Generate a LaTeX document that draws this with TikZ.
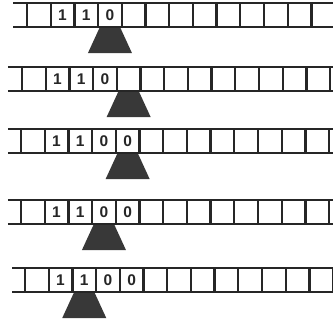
\documentclass[tikz,border=0pt]{standalone}
\usepackage{fontspec}
\setmainfont{Liberation Sans}

\tikzset{
  tapeline/.style={line width=1.7pt, draw=black!85},
  cellbar/.style={line width=2.3pt, draw=black!85},
  symbol/.style={font=\bfseries\fontsize{15.5}{15.5}\selectfont, text=black!85, inner sep=0pt},
  head/.style={fill=black!78},
}

% name, top y, left end, first bar, symbols, head cell
\newcommand{\tmtape}[6]{%
  \draw[tapeline] (#3,#2) -- (333,#2) (#3,#2+24) -- (333,#2+24);
  \foreach \k in {0,...,13} {
    \draw[cellbar] (#4+\k*23.7,#2) -- (#4+\k*23.7,#2+24);
  }
  \foreach \s [count=\i] in {#5} {
    \node[symbol] (#1c\i) at (#4+\i*23.7+11.85,#2+12.5) {\s};
  }
  \coordinate (#1h) at (#4+#6*23.7+11.85,#2+25);
  \fill[head] (#1h) ++(-10.5,0) -- ++(21,0) -- ++(11.5,25) -- ++(-44,0) -- cycle;
}

\begin{document}
\begin{tikzpicture}[x=1pt,y=-1pt]
\useasboundingbox (0,0) rectangle (333,322);

% Tape 1
\tmtape{ta}{3}{13}{27}{1,1,0}{3}
% Tape 2
\tmtape{tb}{67}{8}{22}{1,1,0}{4}
% Tape 3
\tmtape{tc}{129}{8}{21}{1,1,0,0}{4}
% Tape 4
\tmtape{td}{200}{8}{21}{1,1,0,0}{3}
% Tape 5
\tmtape{te}{268}{12}{25}{1,1,0,0}{2}

\end{tikzpicture}
\end{document}
